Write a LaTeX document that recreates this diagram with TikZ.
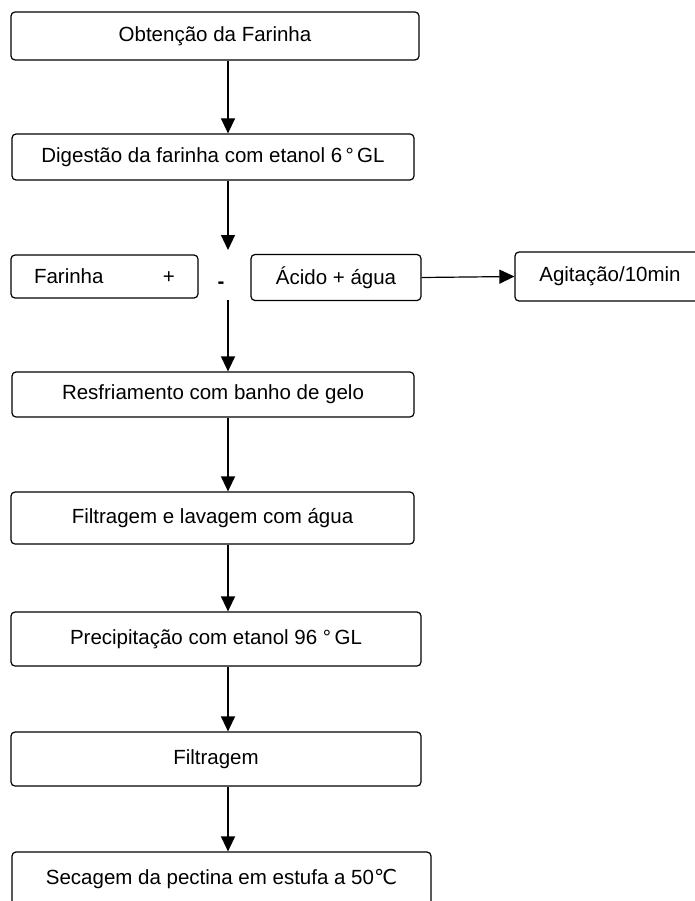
\documentclass[tikz,border=0pt]{standalone}
\usepackage{fontspec}
\setmainfont{Liberation Sans}
\newfontfamily\symfont{DejaVu Sans}
\usetikzlibrary{arrows.meta, positioning}

\begin{document}
\begin{tikzpicture}[
    x=1pt, y=-1pt,
    stage/.style={
        rectangle,
        draw=black,
        line width=1.2pt,
        rounded corners=4pt,
        minimum width=#1,
        minimum height=46pt,
        inner sep=0pt,
        font=\fontsize{20.5}{24}\selectfont
    },
    stage/.default=402pt,
    flow/.style={-{Triangle[width=14pt,length=15pt]}, line width=1.2pt}
]
    \useasboundingbox (0,0) rectangle (695,901);

    % Main column
    \node[stage=408pt, minimum height=48pt] (obtencao) at (215,36) {Obtenção da Farinha};
    \node[stage] (digestao) at (213,157) {Digestão da farinha com etanol 6\,°\,GL};

    % Mixing row
    \node[stage=187pt, minimum height=43pt] (farinha) at (104.5,276.5) {Farinha\hspace{2.9em}+};
    \node[stage=170pt] (acido) at (336,277.5) {Ácido + água};
    \node[stage=190pt, minimum height=49pt] (agitacao) at (610,276.5) {Agitação/10min};
    \node[font=\bfseries\fontsize{20.5}{24}\selectfont, inner sep=0pt] (traco) at (221,285) {-};

    % Remaining steps
    \node[stage, minimum height=45pt] (resfria) at (213,394.5) {Resfriamento com banho de gelo};
    \node[stage=403pt, minimum height=52pt] (lavagem) at (212.5,518) {Filtragem e lavagem com água};
    \node[stage=410pt, minimum height=54pt] (precip) at (216,639) {Precipitação com etanol 96 °\,GL};
    \node[stage=410pt, minimum height=54pt] (filtra) at (216,759) {Filtragem};
    \node[stage=419pt, minimum height=54pt] (secagem) at (221.5,879) {Secagem da pectina em estufa a 50{\symfont ℃}};

    % Connections
    \coordinate (axis) at (228,0);
    \coordinate (junta) at (228,250);
    \coordinate (retoma) at (228,300);
    \foreach \from/\to in {obtencao/digestao, resfria/lavagem, lavagem/precip, precip/filtra, filtra/secagem} {
        \draw[flow] (\from.south -| axis) -- (\to.north -| axis);
    }
    \draw[flow] (digestao.south -| axis) -- (junta);
    \draw[flow] (retoma) -- (resfria.north -| axis);
    \draw[flow] (acido.east) -- (agitacao.west);

\end{tikzpicture}
\end{document}
